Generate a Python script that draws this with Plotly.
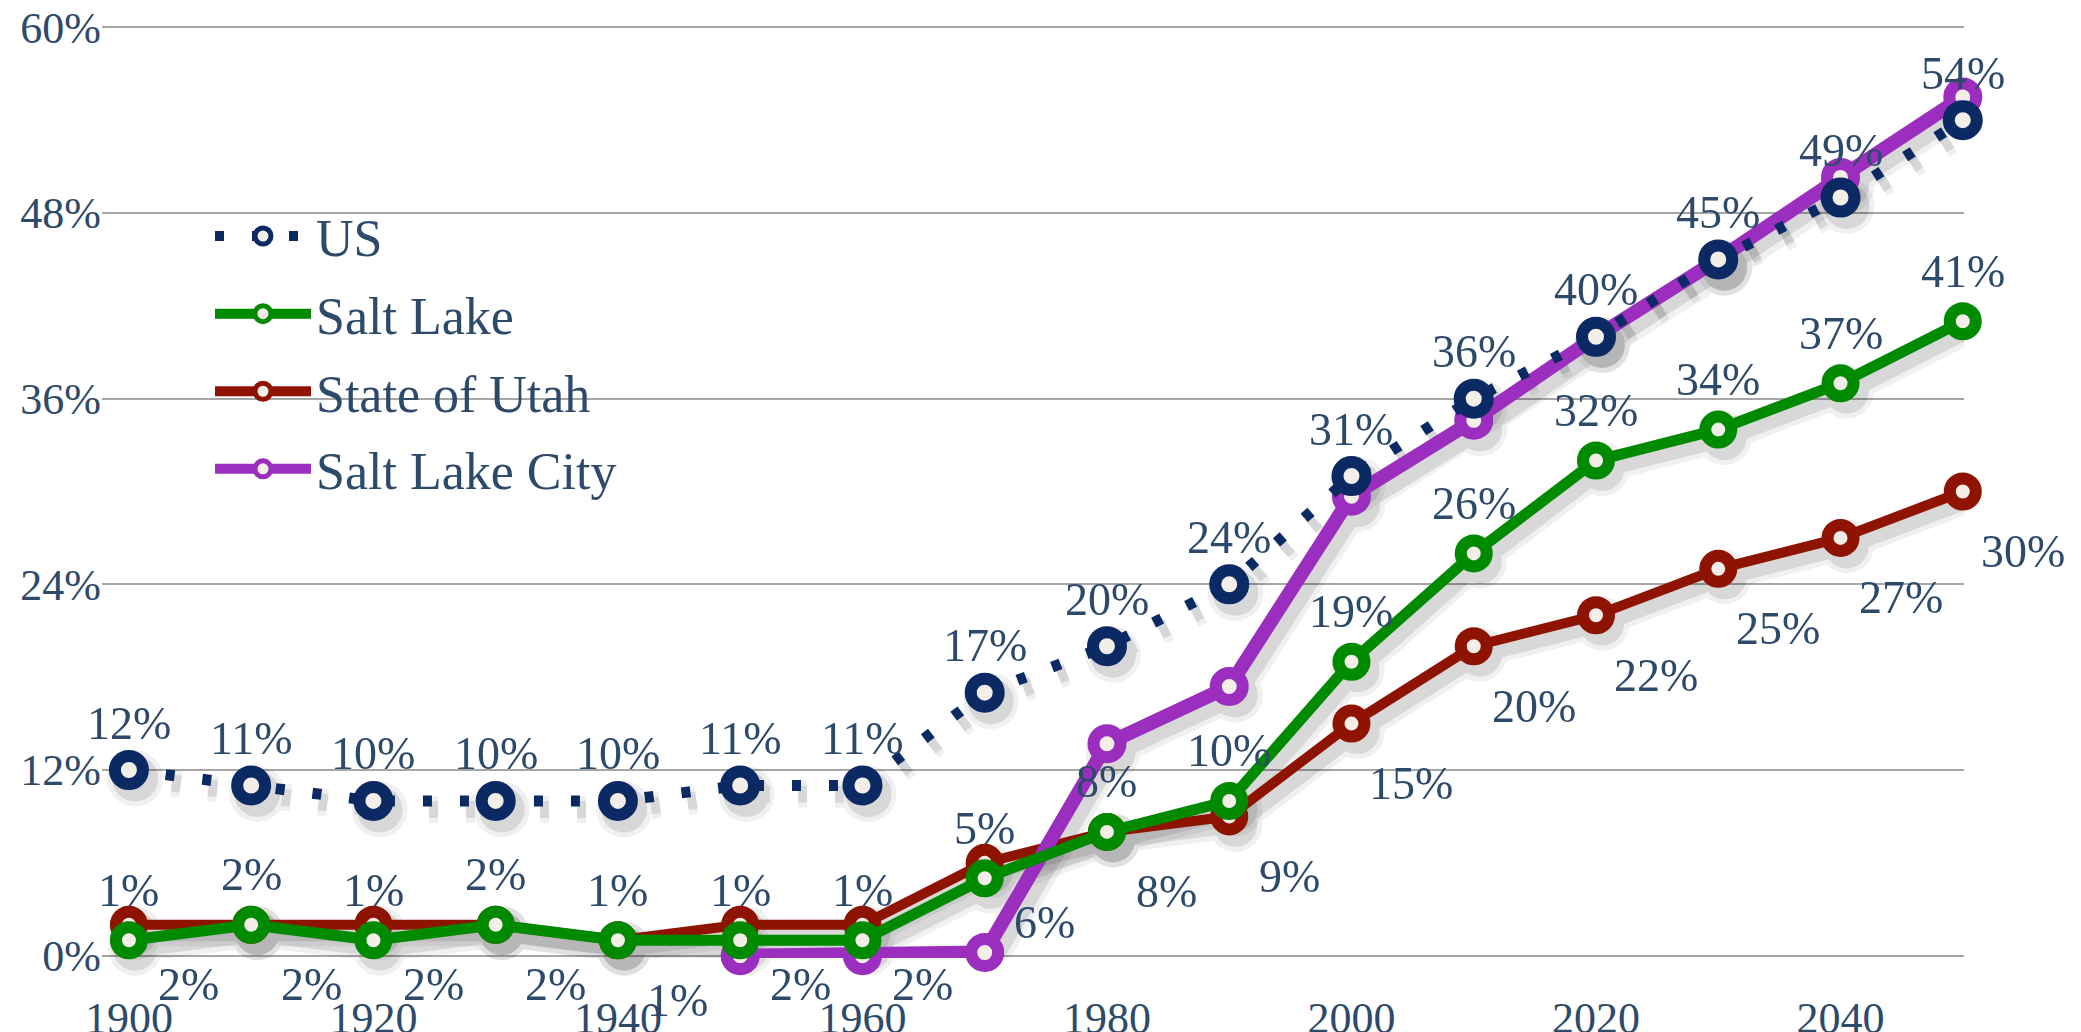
import plotly.graph_objects as go

years = [1900, 1910, 1920, 1930, 1940, 1950, 1960, 1970, 1980, 1990,
         2000, 2010, 2020, 2030, 2040, 2050]
us = [12, 11, 10, 10, 10, 11, 11, 17, 20, 24, 31, 36, 40, 45, 49, 54]
salt_lake = [1, 2, 1, 2, 1, 1, 1, 5, 8, 10, 19, 26, 32, 34, 37, 41]
utah = [2, 2, 2, 2, 1, 2, 2, 6, 8, 9, 15, 20, 22, 25, 27, 30]
slc = [None, None, None, None, None, 0, 0, 0.2, 13.7, 17.4, 29.7, 34.6,
       40, 45, 50.3, 55.5]

x_ticks = [1900, 1920, 1940, 1960, 1980, 2000, 2020, 2040]
y_ticks = [0, 12, 24, 36, 48, 60]
y_ticktext = ["0%", "12%", "24%", "36%", "48%", "60%"]

NAVY = "#0B2A63"
GREEN = "#008A00"
RED = "#8E1300"
PURPLE = "#9B2DBF"
CREAM = "#F3EEE8"
TEXT = "#2E4A6B"
FONT = "Liberation Serif"

X_RANGE = [1897.8, 2050.1]
Y_RANGE = [-0.15, 60.15]
# drop-shadow axes: same data, view shifted a few pixels down-right
SH_DX, SH_DY = 0.5, 0.55

fig = go.Figure()

series = [
    # name, values, color, line width, marker size, marker line width, rank, dash
    ("State of Utah", utah, RED, 10, 26, 12, 3, "solid"),
    ("Salt Lake City", slc, PURPLE, 14, 27, 12, 4, "solid"),
    ("Salt Lake", salt_lake, GREEN, 11, 26, 12, 2, "solid"),
    ("US", us, NAVY, 11, 28, 12, 1, "9px,28px"),
]

# shadows (on hidden base axes)
for name, vals, color, lw, ms, mlw, rank, dash in series:
    for extra, op in ((16, 0.06), (6, 0.10)):
        fig.add_trace(go.Scatter(
            x=years, y=vals, mode="lines+markers", showlegend=False,
            hoverinfo="skip", opacity=op, xaxis="x", yaxis="y",
            line=dict(color="#000000", width=lw + extra, dash=dash),
            marker=dict(size=ms + mlw + extra, color="#000000",
                        line=dict(width=0)),
            cliponaxis=False,
        ))

# real series on visible overlay axes
for name, vals, color, lw, ms, mlw, rank, dash in series:
    fig.add_trace(go.Scatter(
        x=years, y=vals, name=name, mode="lines+markers",
        xaxis="x2", yaxis="y2",
        line=dict(color=color, width=lw, dash=dash),
        marker=dict(symbol="circle", size=ms, color=CREAM,
                    line=dict(color=color, width=mlw)),
        legendrank=rank, legendgroup=name, cliponaxis=False,
    ))

lab_font = dict(family=FONT, size=46, color=TEXT)


def add_labels(values, xs, ys):
    for yr, v in zip(years, values):
        if v is None:
            continue
        fig.add_annotation(x=yr, y=v, xref="x2", yref="y2",
                           text=f"{round(v)}%", showarrow=False,
                           xshift=xs, yshift=ys, font=lab_font,
                           xanchor="center", yanchor="middle")


add_labels(us, 0, 47)
add_labels(salt_lake, 0, 50)
add_labels(utah, 60, -60)

tick_font = dict(family=FONT, size=44, color=TEXT)

fig.update_layout(
    width=2081, height=1032,
    margin=dict(l=102, r=117, t=25, b=74, autoexpand=False),
    paper_bgcolor="white", plot_bgcolor="white",
    showlegend=True,
    legend=dict(
        x=0.058, y=0.817, xanchor="left", yanchor="top",
        font=dict(family=FONT, size=52, color=TEXT),
        bgcolor="rgba(0,0,0,0)", tracegroupgap=7,
        traceorder="grouped", itemwidth=96,
    ),
    xaxis=dict(range=[X_RANGE[0] - SH_DX, X_RANGE[1] - SH_DX],
               visible=False, showgrid=False, zeroline=False),
    yaxis=dict(range=[Y_RANGE[0] + SH_DY, Y_RANGE[1] + SH_DY],
               visible=False, showgrid=False, zeroline=False),
    xaxis2=dict(
        overlaying="x", range=X_RANGE, tickvals=x_ticks, showgrid=False,
        zeroline=False, showline=False, ticks="", automargin=False,
        tickfont=tick_font, ticklabelstandoff=30, side="bottom",
    ),
    yaxis2=dict(
        overlaying="y", range=Y_RANGE, tickvals=y_ticks,
        ticktext=y_ticktext, showgrid=True, gridcolor="#A6A6A6",
        gridwidth=2, zeroline=False, showline=False, ticks="",
        automargin=False, tickfont=tick_font, side="left",
    ),
)

fig.write_html("out.html", config={"displayModeBar": False},
               post_script="document.body.style.margin='0';")
